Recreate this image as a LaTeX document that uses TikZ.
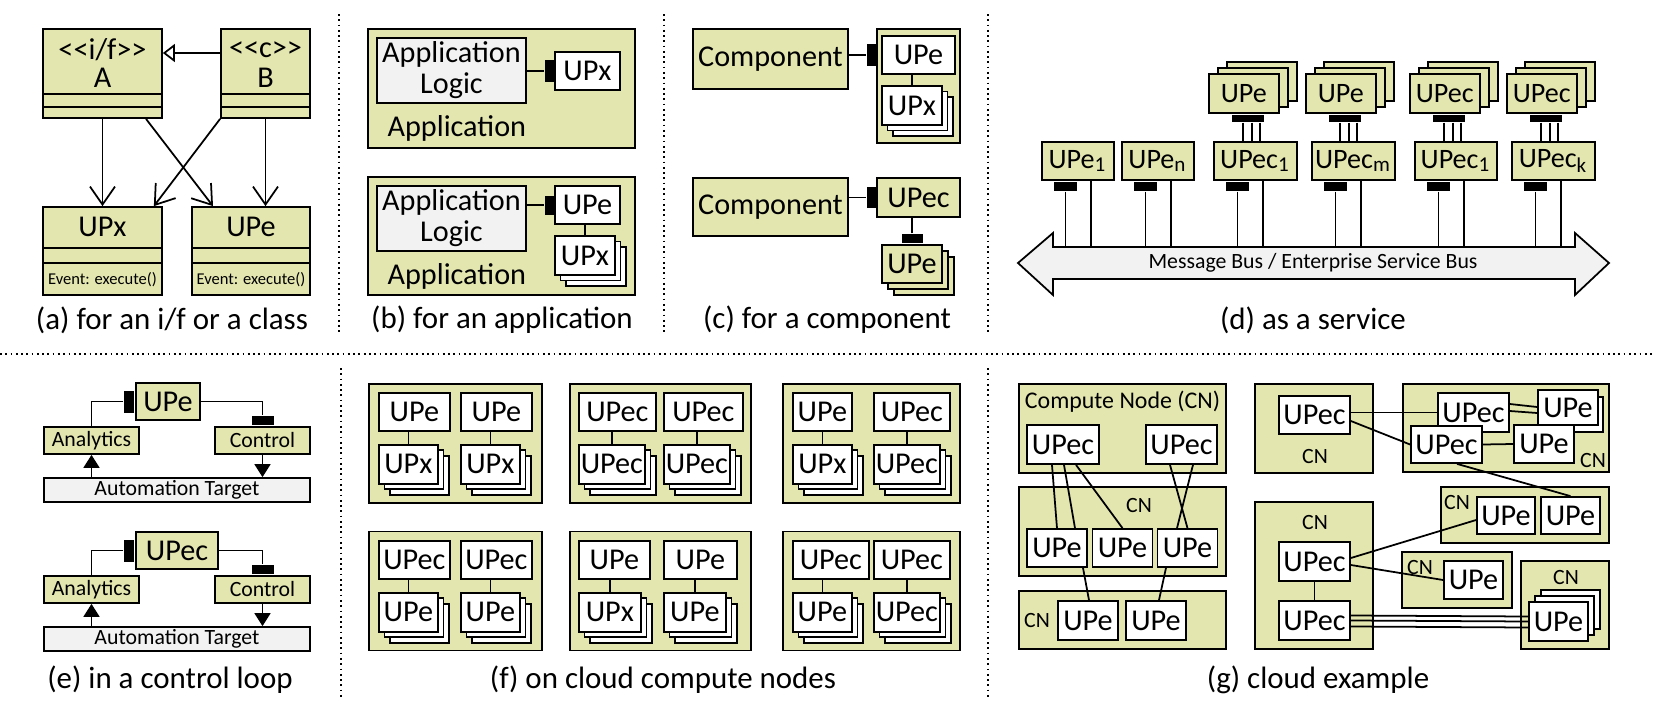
\documentclass[tikz,border=0pt]{standalone}
\usepackage{fontspec}
\setmainfont{Carlito}
\usetikzlibrary{arrows.meta,shadows,positioning}
\definecolor{upkhaki}{RGB}{227,230,175}
\definecolor{upgray}{RGB}{242,242,242}

\begin{document}
\begin{tikzpicture}[x=0.1mm,y=-0.1mm,line width=0.5pt,
  font=\fontsize{8.6}{9}\selectfont,
  bx/.style 2 args={draw,inner sep=0pt,minimum width=#1mm,minimum height=#2mm,align=center},
  kb/.style 2 args={bx={#1}{#2},fill=upkhaki},
  wb/.style 2 args={bx={#1}{#2},fill=white},
  gb/.style 2 args={bx={#1}{#2},fill=upgray},
  sock/.style 2 args={fill=black,inner sep=0pt,minimum width=#1mm,minimum height=#2mm},
  wstack/.style={double copy shadow={shadow xshift=0.55mm,shadow yshift=-0.55mm,fill=white,draw=black}},
  kstack/.style={double copy shadow={shadow xshift=0.6mm,shadow yshift=-0.6mm,fill=upkhaki,draw=black}},
  kstackup/.style={double copy shadow={shadow xshift=0.9mm,shadow yshift=0.6mm,fill=upkhaki,draw=black}},
  wstackup/.style={double copy shadow={shadow xshift=0.6mm,shadow yshift=0.6mm,fill=white,draw=black}},
  sep/.style={densely dotted,line width=0.5pt},
  caption/.style={font=\fontsize{8.8}{10}\selectfont},
  small/.style={font=\fontsize{6.2}{7}\selectfont},
  uarr/.style={-{Straight Barb[length=1.8mm,width=2.5mm]}},
  tri/.style={-{Triangle[length=1.3mm,width=1.6mm]}}]
\useasboundingbox (0,0) rectangle (1654,709);

% separators
\draw[sep] (339,14) -- (339,335);
\draw[sep] (664,14) -- (664,335);
\draw[sep] (988,14) -- (988,335);
\draw[sep] (0,354) -- (1654,354);
\draw[sep] (341,368) -- (341,700);
\draw[sep] (988,368) -- (988,700);

% (a) for an i/f or a class
\node[kb={11.9}{8.9}] (ifA) at (102.5,73.5) {};
\node[kb={8.9}{8.9}] (clB) at (265.5,73.5) {};
\draw (ifA.west |- 0,94) -- (ifA.east |- 0,94);
\draw (ifA.west |- 0,107) -- (ifA.east |- 0,107);
\draw (clB.west |- 0,94) -- (clB.east |- 0,94);
\draw (clB.west |- 0,107) -- (clB.east |- 0,107);
\node (ifAst) at (102.5,50) {<{}<i/f>{}>};
\node (ifAnm) at (102.5,78) {A};
\node (clBst) at (265.5,50) {<{}<c>{}>};
\node (clBnm) at (265.5,78) {B};
\node[kb={11.9}{8.8}] (aUPx) at (102.5,251) {};
\node[kb={11.8}{8.8}] (aUPe) at (251,251) {};
\foreach \b in {aUPx,aUPe} {
  \draw (\b.west |- 0,248) -- (\b.east |- 0,248);
  \draw (\b.west |- 0,263) -- (\b.east |- 0,263);
}
\node (aUPxt) at (102.5,227) {UPx};
\node (aUPet) at (251,227) {UPe};
\node[font=\fontsize{4.7}{5}\selectfont] (aUPxev) at (102.5,280) {Event: execute()};
\node[font=\fontsize{4.7}{5}\selectfont] (aUPeev) at (251,280) {Event: execute()};
\draw[-{Triangle[open,length=1.2mm,width=1.8mm]}] (clB.west |- 0,53) -- (ifA.east |- 0,53);
\draw[uarr] (ifA.south) -- (aUPx.north);
\draw[uarr] (clB.south) -- (clB.south |- aUPe.north);
\draw[uarr] ([xshift=4.35mm]ifA.south) -- ([xshift=-3.8mm]aUPe.north);
\draw[uarr] (clB.south west) -- ([xshift=-0.9mm]aUPx.north east);
\node[caption] (capa) at (172,320) {(a) for an i/f or a class};

% (b) for an application
\node[kb={26.7}{11.9}] (app1) at (501.5,88.5) {};
\node[gb={14.9}{6.5},font=\fontsize{8.6}{8.8}\selectfont] (logic1) at (451.5,70.5) {Application\\Logic};
\node[sock={1}{2.2}] (bs1) at (550,71) {};
\node[wb={6.5}{3.8}] (bUPx) at (587.5,71) {UPx};
\draw (logic1.east |- bs1) -- (bs1);
\node[anchor=west] (app1t) at (375,128) {Application};
\node[kb={26.7}{11.8}] (app2) at (501.5,236) {};
\node[gb={14.9}{6.5},font=\fontsize{8.6}{8.8}\selectfont] (logic2) at (451.5,218.5) {Application\\Logic};
\node[sock={1}{1.9}] (bs2) at (550,205) {};
\node[wb={6.5}{3.8}] (bUPe) at (587.5,205) {UPe};
\node[wb={6}{3.9},wstack] (bUPxs) at (585,255.5) {UPx};
\draw (logic2.east |- bs2) -- (bs2);
\draw (bUPxs.north) -- (bUPxs.north |- bUPe.south);
\node[anchor=west] (app2t) at (375,276) {Application};
\node[caption] (capb) at (502,320) {(b) for an application};

% (c) for a component
\node[kb={15.5}{6}] (comp1) at (770.5,59) {Component};
\node[kb={8.3}{11.4}] (cbox) at (918.5,86) {};
\node[sock={1}{2.2}] (cs1) at (872,55) {};
\node[wb={7.3}{3.8}] (cUPe) at (918.5,55) {UPe};
\node[wb={6}{3.9},wstack] (cUPxs) at (912,105.5) {UPx};
\draw (comp1.east |- cs1) -- (cs1);
\draw (cUPxs.north) -- (cUPxs.north |- cUPe.south);
\node[kb={15.5}{5.8}] (comp2) at (770.5,207) {Component};
\node[sock={1}{2.1}] (cs2) at (872,197.5) {};
\node[kb={8.3}{3.9}] (cUPec) at (918.5,197.5) {UPec};
\node[kb={6}{3.8},kstack] (cUPes) at (912,264) {UPe};
\node[sock={2.1}{0.9},anchor=south] (cs3) at (cUPes.north) {};
\draw (comp2.east |- cs2) -- (cs2);
\draw (cs3.north) -- (cs3.north |- cUPec.south);
\node[caption] (capc) at (827,320) {(c) for a component};

% (d) as a service
\fill[upgray,draw=black] (1018,263) -- (1053,233) -- (1053,247) -- (1575,247) -- (1575,233)
  -- (1609,263) -- (1575,295) -- (1575,279) -- (1053,279) -- (1053,295) -- cycle;
\node[small] (bus) at (1313,263) {Message Bus / Enterprise Service Bus};
\coordinate (bustop) at (1313,247);
\foreach \n/\l/\w/\t in {d1/1041/7.2/UPe\textsubscript{1},d2/1121/7.2/UPe\textsubscript{n},
    d3/1213/8.3/UPec\textsubscript{1},d4/1311/8.3/UPec\textsubscript{m},
    d5/1414/8.2/UPec\textsubscript{1},d6/1511/8.3/UPec\textsubscript{k}} {
  \node[kb={\w}{3.8},anchor=west,font=\fontsize{8}{8}\selectfont] (\n) at (\l,161) {\t};
  \node[sock={2.3}{0.9},anchor=north west] (\n s) at ([xshift=1.2mm]\n.south west) {};
  \draw (\n s.south) -- (\n s.south |- bustop);
  \draw ([xshift=5mm]\n.south west) -- ([xshift=5mm]\n.south west |- bustop);
}
\foreach \n/\l/\t/\m in {u3/1208/UPe/d3,u4/1305/UPe/d4,u5/1409/UPec/d5,u6/1506/UPec/d6} {
  \node[kb={7}{3.9},kstackup,anchor=west,font=\fontsize{8}{8}\selectfont] (\n) at (\l,93.5) {\t};
  \node[sock={3.2}{0.7},anchor=north west] (\n s) at ([xshift=2.3mm]\n.south west) {};
  \foreach \dx in {1.2,2.1,2.9}
    \draw ([xshift=\dx mm]\n s.south west) -- ([xshift=\dx mm]\n s.south west |- \m.north);
}
\node[caption] (capd) at (1313,320) {(d) as a service};

% (e) in a control loop
\node[kb={6.4}{3.7}] (eUPe) at (168,401.5) {UPe};
\node[sock={1}{2.2},anchor=east] (eUPes) at (eUPe.west) {};
\node[kb={9.5}{2.7},small] (eAna1) at (91.5,440.5) {Analytics};
\node[kb={9.5}{2.7},small] (eCtl1) at (262.5,440.5) {Control};
\node[sock={2.2}{0.9},anchor=south] (eCs1) at (eCtl1.north) {};
\node[gb={26.6}{2.4},small] (eTgt1) at (177,490) {Automation Target};
\draw (eUPes.west) -| (eAna1.north);
\draw (eUPe.east) -| (eCs1.north);
\draw[tri] (eTgt1.north -| eAna1.south) -- (eAna1.south);
\draw[tri] (eCtl1.south) -- (eCtl1.south |- eTgt1.north);
\node[kb={8.2}{3.7}] (eUPec) at (177,550.5) {UPec};
\node[sock={1}{2.2},anchor=east] (eUPecs) at (eUPec.west) {};
\node[kb={9.5}{2.7},small] (eAna2) at (91.5,589.5) {Analytics};
\node[kb={9.5}{2.7},small] (eCtl2) at (262.5,589.5) {Control};
\node[sock={2.2}{0.9},anchor=south] (eCs2) at (eCtl2.north) {};
\node[gb={26.6}{2.4},small] (eTgt2) at (177,639) {Automation Target};
\draw (eUPecs.west) -| (eAna2.north);
\draw (eUPec.east) -| (eCs2.north);
\draw[tri] (eTgt2.north -| eAna2.south) -- (eAna2.south);
\draw[tri] (eCtl2.south) -- (eCtl2.south |- eTgt2.north);
\node[caption] (cape) at (170,680) {(e) in a control loop};

% (f) on cloud compute nodes
\foreach \n/\l/\w/\y in {f1/368/17.3/443.5,f2/569/18.1/443.5,f3/782/17.7/443.5,
    f4/368/17.3/591,f5/569/18.1/591,f6/782/17.7/591}
  \node[kb={\w}{11.9},anchor=west] (\n) at (\l,\y) {};
\foreach \n/\l/\y/\t/\tw/\s/\sw in {
    fa/378/412/UPe/7.1/UPx/5.9, fb/460/412/UPe/7.1/UPx/5.9,
    fc/578/412/UPec/7.7/UPec/6.6, fd/663/412/UPec/7.9/UPec/6.6,
    fe/792/412/UPe/5.9/UPx/5.9, ff/873/412/UPec/7.6/UPec/6.6,
    fg/378/560/UPec/7.1/UPe/5.9, fh/460/560/UPec/7.1/UPe/5.9,
    fi/578/560/UPe/7.1/UPx/6.2, fj/663/560/UPe/7.3/UPe/6.2,
    fk/792/560/UPec/7.6/UPe/5.9, fl/873/560/UPec/7.6/UPec/6.6} {
  \node[wb={\tw}{3.8},anchor=west] (\n t) at (\l,\y) {\t};
  \node[wb={\sw}{3.9},wstack,anchor=north west] (\n s) at ([yshift=-1.2mm]\n t.south west) {\s};
  \draw (\n s.north) -- (\n s.north |- \n t.south);
}
\node[caption] (capf) at (663,680) {(f) on cloud compute nodes};

% (g) cloud example
\node[kb={20.7}{8.9}] (cn1) at (1122.5,428.5) {};
\node[font=\fontsize{6.8}{7}\selectfont] (cn1t) at (1122.5,402) {Compute Node (CN)};
\node[wb={7.2}{3.9}] (g1a) at (1063,444.5) {UPec};
\node[wb={7.1}{3.9}] (g1b) at (1181.5,444.5) {UPec};
\node[kb={20.7}{8.9}] (cn2) at (1122.5,531.5) {};
\node[small] (cn2t) at (1139,505) {CN};
\node[wb={6}{3.8}] (g2a) at (1057,548) {UPe};
\node[wb={6}{3.8}] (g2b) at (1122.5,548) {UPe};
\node[wb={6}{3.8}] (g2c) at (1187.5,548) {UPe};
\node[kb={20.7}{5.8}] (cn3) at (1122.5,620) {};
\node[small] (cn3t) at (1037,620) {CN};
\node[wb={6}{3.9}] (g3a) at (1088,620.5) {UPe};
\node[wb={6}{3.9}] (g3b) at (1156,620.5) {UPe};
\draw ([xshift=-1.1mm]g1a.south) -- (g2a.north);
\draw ([xshift=0.1mm]g1a.south) -- ([xshift=1.8mm]g2a.north);
\draw ([xshift=1.3mm]g1a.south) -- (g2b.north);
\draw ([xshift=-1.15mm]g1b.south) -- (g2c.north);
\draw ([xshift=1.15mm]g1b.south) -- ([xshift=-1.05mm]g2c.north);
\draw ([xshift=2.6mm]g2a.south) -- ([xshift=0.1mm]g3a.north);
\draw ([xshift=-2.15mm]g2c.south) -- ([xshift=0.3mm]g3b.north);
\node[kb={11.8}{8.9}] (cn4) at (1314,428.5) {};
\node[small] (cn4t) at (1315,456) {CN};
\node[wb={7.1}{3.8}] (g4) at (1314.5,415) {UPec};
\node[kb={20.6}{8.8}] (cn5) at (1506,428) {};
\node[small] (cn5t) at (1593,460) {CN};
\node[wb={7.1}{3.9}] (g5a) at (1473.5,412.5) {UPec};
\node[wb={7.1}{3.7}] (g5b) at (1446.5,444.5) {UPec};
\node[wb={6}{3.5},copy shadow={shadow xshift=0.5mm,shadow yshift=-0.7mm,fill=white,draw=black}] (g5s) at (1568,407.5) {UPe};
\node[wb={6}{3.8}] (g5c) at (1544,444) {UPe};
\node[kb={16.8}{5.6}] (cn6) at (1525,515) {};
\node[small] (cn6t) at (1457,502) {CN};
\node[wb={5.8}{3.7}] (g6a) at (1506,515.5) {UPe};
\node[wb={5.9}{3.7}] (g6b) at (1570.5,515.5) {UPe};
\node[kb={11.8}{14.7}] (cn7) at (1314,575.5) {};
\node[small] (cn7t) at (1315,522) {CN};
\node[wb={7.1}{3.9}] (g7a) at (1314.5,561.5) {UPec};
\node[wb={7.1}{3.9}] (g7b) at (1314.5,620.5) {UPec};
\node[kb={11}{5.6}] (cn8) at (1457,580) {};
\node[small] (cn8t) at (1420,567) {CN};
\node[wb={5.9}{3.8}] (g8) at (1473.5,580) {UPe};
\node[kb={8.8}{8.8}] (cn9) at (1565,605) {};
\node[small] (cn9t) at (1566,577) {CN};
\node[wb={5.9}{3.9},wstackup] (g9) at (1558.5,621.5) {UPe};
\draw (g5a.west -| g4.east) -- (g5a.west);
\draw ([yshift=-0.6mm]g4.east) -- (g5b.west);
\draw ([yshift=0.85mm]g5a.east) -- ([yshift=0.05mm]g5s.west);
\draw ([yshift=0.15mm]g5a.east) -- ([yshift=-0.55mm]g5s.west);
\draw (g5b.east) -- (g5c.west);
\draw ([xshift=1.05mm]g5b.south) -- (g6b.north);
\draw ([yshift=0.35mm]g7a.east) -- ([yshift=-0.45mm]g6a.west);
\draw ([yshift=-0.35mm]g7a.east) -- (g8.west);
\draw (g7a) -- (g7b);
\foreach \dy in {0.5,0,-0.6}
  \draw ([yshift=\dy mm]g7b.east) -- ([yshift=\dy mm]g9.west);
\node[caption] (capg) at (1318,680) {(g) cloud example};
\end{tikzpicture}
\end{document}
